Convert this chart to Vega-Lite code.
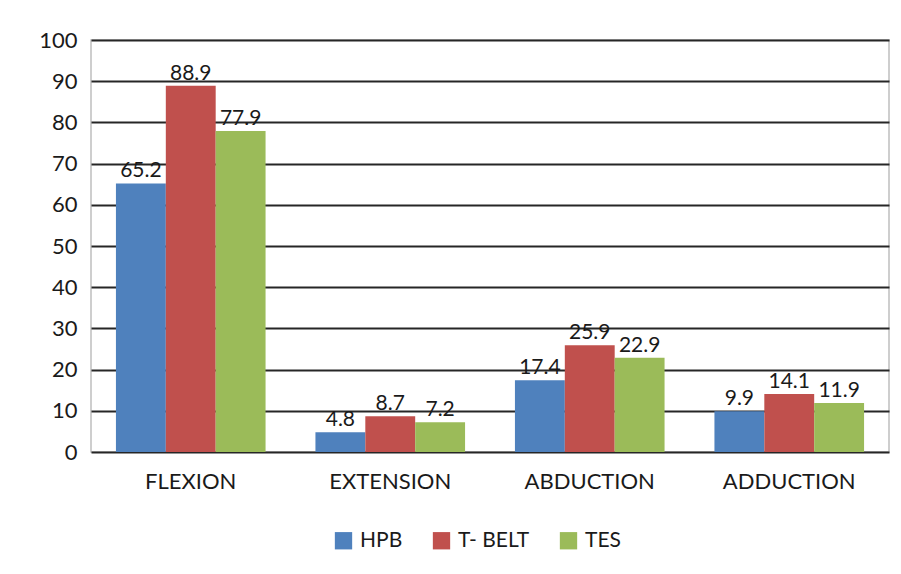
{
  "$schema": "https://vega.github.io/schema/vega-lite/v6.json",
  "autosize": "none",
  "width": 798,
  "height": 412,
  "padding": {"left": 91, "top": 40, "right": 12, "bottom": 122},
  "background": "white",
  "config": {
    "font": "Lato",
    "view": {"stroke": "#bfbfbf", "strokeWidth": 1.5},
    "axis": {"labelFont": "Lato", "labelColor": "#1a1a1a", "labelFontSize": 22}
  },
  "data": {"values": [
    {"movement": "FLEXION", "group": "HPB", "value": 65.2},
    {"movement": "FLEXION", "group": "T- BELT", "value": 88.9},
    {"movement": "FLEXION", "group": "TES", "value": 77.9},
    {"movement": "EXTENSION", "group": "HPB", "value": 4.8},
    {"movement": "EXTENSION", "group": "T- BELT", "value": 8.7},
    {"movement": "EXTENSION", "group": "TES", "value": 7.2},
    {"movement": "ABDUCTION", "group": "HPB", "value": 17.4},
    {"movement": "ABDUCTION", "group": "T- BELT", "value": 25.9},
    {"movement": "ABDUCTION", "group": "TES", "value": 22.9},
    {"movement": "ADDUCTION", "group": "HPB", "value": 9.9},
    {"movement": "ADDUCTION", "group": "T- BELT", "value": 14.1},
    {"movement": "ADDUCTION", "group": "TES", "value": 11.9}
  ]},
  "encoding": {
    "x": {
      "field": "movement", "type": "nominal",
      "sort": ["FLEXION", "EXTENSION", "ABDUCTION", "ADDUCTION"],
      "scale": {"paddingInner": 0.25, "paddingOuter": 0.125},
      "axis": {"title": null, "labelAngle": 0, "ticks": false, "domain": false, "labelPadding": 19}
    },
    "xOffset": {"field": "group", "type": "nominal", "sort": ["HPB", "T- BELT", "TES"], "scale": {"paddingInner": 0, "paddingOuter": 0}},
    "y": {
      "field": "value", "type": "quantitative",
      "scale": {"domain": [0, 100], "nice": false},
      "axis": {"title": null, "values": [0,10,20,30,40,50,60,70,80,90,100], "labelOverlap": false, "ticks": false, "domain": false, "grid": true, "gridColor": "#262626", "gridWidth": 2, "labelPadding": 14}
    }
  },
  "layer": [
    {
      "mark": {"type": "bar"},
      "encoding": {
        "color": {
          "field": "group", "type": "nominal", "sort": ["HPB", "T- BELT", "TES"],
          "scale": {"domain": ["HPB", "T- BELT", "TES"], "range": ["#4F81BD", "#C0504D", "#9BBB59"]},
          "legend": {"title": null, "orient": "none", "legendX": 242, "legendY": 490, "direction": "horizontal", "symbolType": "square", "symbolSize": 300, "symbolStrokeWidth": 0, "labelFontSize": 21, "labelFont": "Lato", "labelColor": "#1a1a1a", "columnPadding": 28, "labelOffset": 6}
        }
      }
    },
    {
      "mark": {"type": "text", "dy": -12, "fontSize": 21, "font": "Lato", "color": "#1a1a1a"},
      "encoding": {"text": {"field": "value", "type": "quantitative", "format": ".1f"}}
    }
  ]
}
